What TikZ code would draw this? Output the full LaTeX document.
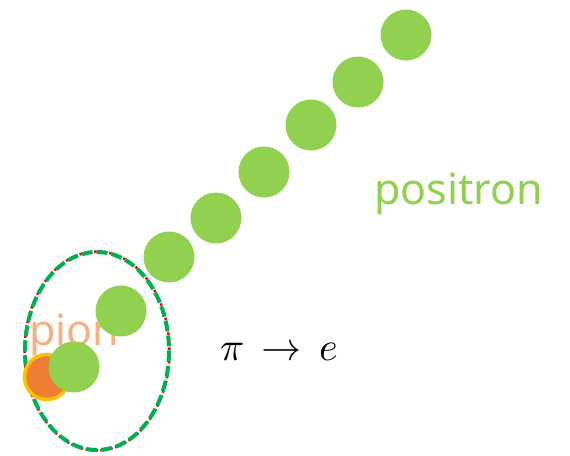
\documentclass[tikz,border=0pt]{standalone}
\usepackage{fontspec}
\setmainfont{Noto Sans}
\usepackage{unicode-math}
\setmathfont{Latin Modern Math}
\definecolor{ball}{HTML}{92D050}
\definecolor{pionc}{HTML}{ED7D31}
\definecolor{goldc}{HTML}{FFC000}
\definecolor{ringg}{HTML}{00B050}
\definecolor{pionlbl}{HTML}{F4B183}
\tikzset{
  posball/.style={circle,fill=ball,minimum size=51pt,inner sep=0pt},
  pionball/.style={circle,fill=pionc,draw=goldc,line width=3.5pt,minimum size=45pt,inner sep=0pt},
}
\begin{document}
\begin{tikzpicture}[x=1pt,y=-1pt]
\useasboundingbox (0,0) rectangle (570,455);
\draw[red,line width=2.5pt,dash pattern=on 2.5pt off 2.5pt] (97,351) ellipse [x radius=72.5,y radius=99.5];
\draw[ringg,line width=4pt,dash pattern=on 11pt off 4pt] (97,351) ellipse [x radius=72,y radius=99];
\node[text=pionlbl,font=\fontsize{43}{43}\selectfont,anchor=base west,inner sep=0pt] (pionlabel) at (29,345) {pion};
\node[pionball] (pion) at (47,377) {};
\node[posball] (b1) at (74,367) {};
\node[posball] (b2) at (121,311) {};
\node[posball] (b3) at (169,257) {};
\node[posball] (b4) at (216,218) {};
\node[posball] (b5) at (264,172) {};
\node[posball] (b6) at (311,125) {};
\node[posball] (b7) at (358,82) {};
\node[posball] (b8) at (406,35) {};
\node[text=ball,font=\fontsize{43}{43}\selectfont,anchor=base west,inner sep=0pt] (poslabel) at (374,204) {positron};
\node[font=\fontsize{40}{40}\selectfont,anchor=base west,inner sep=0pt] (decay) at (220,360) {$\pi\mkern3mu\rightarrow\mkern3mu e$};
\end{tikzpicture}
\end{document}
